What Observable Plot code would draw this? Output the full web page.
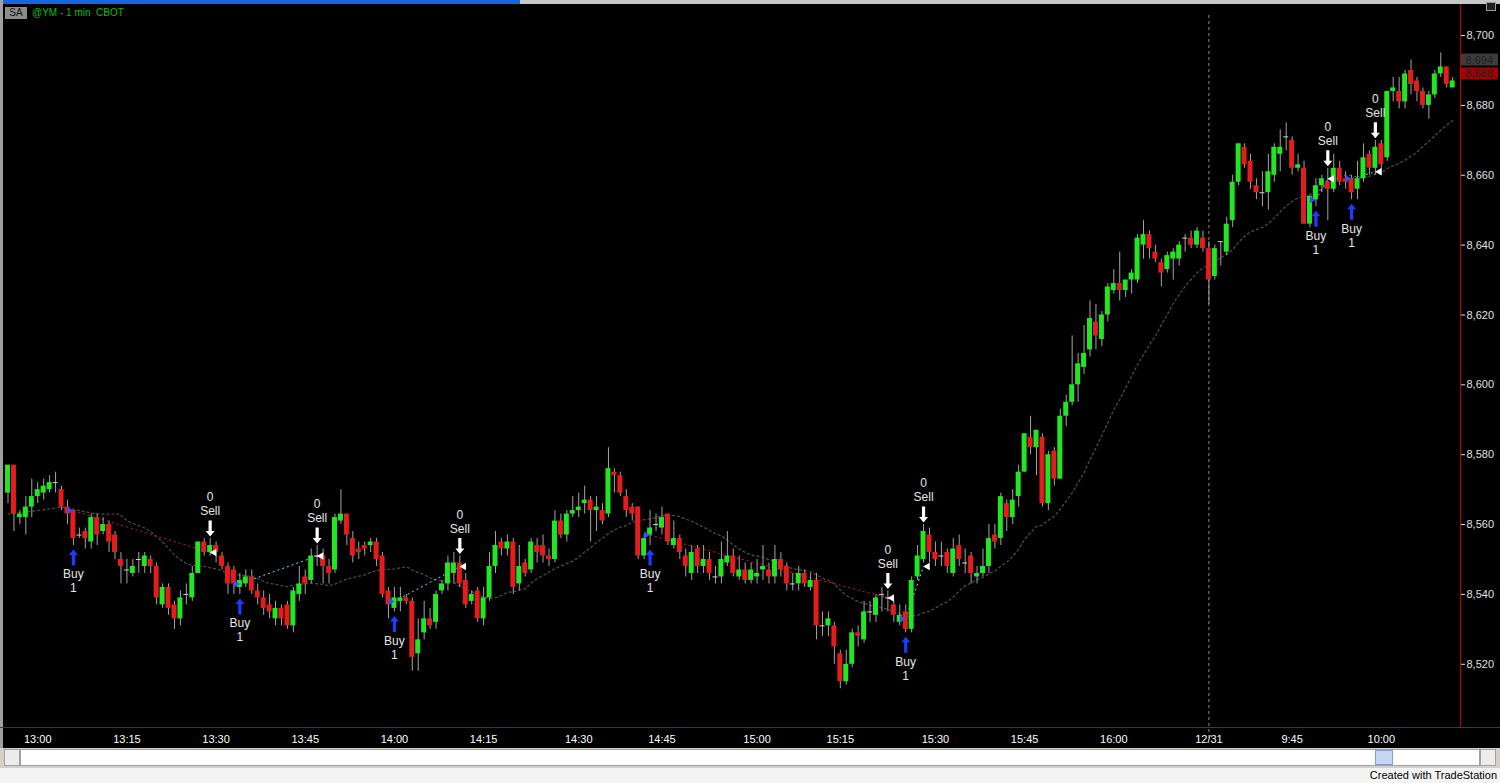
<!DOCTYPE html>
<html><head><meta charset="utf-8">
<script src="https://cdn.jsdelivr.net/npm/d3@7"></script>
<script src="https://cdn.jsdelivr.net/npm/@observablehq/plot@0.6"></script>
<style>
html,body{margin:0;padding:0}
body{width:1500px;height:783px;overflow:hidden;position:relative;background:#000;font-family:"Liberation Sans",Arial,sans-serif}
#chart{position:absolute;left:0;top:0}
.ov{position:absolute;box-sizing:border-box}
</style></head><body>
<div id="chart"></div>
<div class="ov" style="left:0;top:0;width:1500px;height:4px;background:#c8c8c8"></div>
<div class="ov" style="left:0;top:0;width:520px;height:4px;background:#1466e0"></div>
<div class="ov" style="left:0;top:0;width:3px;height:748px;background:#a0a0a0"></div>
<div class="ov" style="left:1486px;top:2px;width:10px;height:9px;border:1px solid #9a9a9a;background:#202020"></div>
<div class="ov" style="left:1460px;top:4px;width:1px;height:723px;background:#c00000"></div>
<div class="ov" style="left:0;top:727px;width:1500px;height:1px;background:#c00000"></div>
<div class="ov" style="left:5px;top:7px;width:22px;height:12px;background:#8c8c8c;color:#101010;font-size:10px;line-height:12px;text-align:center">SA</div>
<div class="ov" style="left:32px;top:6px;color:#00c000;font-size:10px;line-height:14px;white-space:pre">@YM - 1 min  CBOT</div>
<div class="ov" style="left:0;top:748px;width:1500px;height:20px;background:#d4d0c8"></div>
<div class="ov" style="left:4px;top:749px;width:16px;height:17px;background:#ececec;border:1px solid #a0a0a0"></div>
<div class="ov" style="left:20px;top:749px;width:1460px;height:17px;background:#fff;border:1px solid #a0a0a0"></div>
<div class="ov" style="left:1375px;top:750px;width:18px;height:15px;background:#c4d6f2;border:1px solid #7f9fd0"></div>
<div class="ov" style="left:1480px;top:749px;width:16px;height:17px;background:#ececec;border:1px solid #a0a0a0"></div>
<div class="ov" style="left:0;top:768px;width:1500px;height:15px;background:#f4f4f4"></div>
<div class="ov" style="right:3px;top:769px;color:#000;font-size:11px;line-height:13px">Created with TradeStation</div>
<script>
// ---- data ----
const opens = [
8569,8577,8562,8562,8565,8568,8569,8570,8572,8570,
8565,8564,8557,8558,8555,8562,8558,8560,8557,8550,
8547,8546,8550,8548,8550,8548,8537,8542,8537,8533,
8540,8539,8546,8555,8552,8554,8551,8548,8547,8542,
8543,8545,8541,8539,8537,8533,8536,8537,8531,8540,
8545,8544,8551,8551,8548,8547,8561,8563,8556,8553,
8554,8554,8555,8551,8541,8536,8538,8539,8538,8523,
8529,8533,8532,8541,8543,8546,8549,8544,8538,8541,
8533,8539,8548,8555,8553,8555,8543,8549,8547,8554,
8554,8551,8550,8561,8557,8563,8564,8566,8567,8564,
8564,8563,8575,8574,8568,8565,8565,8551,8557,8560,
8559,8563,8554,8556,8551,8546,8553,8548,8550,8545,
8545,8549,8551,8545,8547,8544,8545,8547,8547,8545,
8550,8548,8543,8543,8546,8542,8544,8531,8531,8531,
8523,8515,8520,8529,8527,8535,8534,8540,8539,8537,
8532,8535,8530,8545,8550,8557,8552,8551,8552,8546,
8554,8549,8551,8545,8546,8548,8557,8556,8566,8562,
8568,8575,8585,8582,8585,8566,8581,8573,8591,8595,
8600,8605,8610,8618,8613,8620,8627,8629,8627,8630,
8630,8640,8643,8638,8635,8633,8636,8636,8642,8642,
8640,8642,8639,8631,8641,8638,8647,8658,8668,8664,
8657,8655,8655,8660,8666,8671,8670,8662,8662,8646,
8653,8657,8658,8656,8662,8659,8659,8656,8659,8666,
8662,8669,8665,8684,8684,8681,8690,8687,8684,8680,
8683,8689,8691,8685];
const highs = [
8577,8577,8564,8568,8573,8572,8573,8574,8575,8571,
8567,8564,8559,8559,8563,8563,8562,8561,8558,8552,
8550,8550,8552,8552,8551,8549,8543,8543,8538,8541,
8543,8548,8555,8556,8556,8555,8552,8549,8548,8546,
8547,8547,8543,8541,8540,8538,8537,8538,8542,8548,
8547,8553,8554,8553,8550,8563,8570,8563,8558,8555,
8555,8556,8556,8552,8542,8542,8542,8540,8539,8533,
8538,8536,8541,8544,8551,8552,8551,8546,8541,8542,
8542,8552,8558,8556,8557,8556,8554,8550,8556,8556,
8557,8553,8564,8563,8564,8568,8569,8571,8568,8568,
8566,8582,8576,8575,8570,8566,8565,8557,8564,8563,
8565,8563,8561,8557,8553,8554,8554,8554,8552,8548,
8555,8558,8553,8551,8549,8549,8550,8554,8549,8554,
8552,8549,8546,8548,8547,8546,8546,8535,8535,8532,
8524,8524,8530,8531,8538,8538,8540,8542,8541,8538,
8537,8537,8545,8554,8560,8559,8555,8555,8553,8556,
8557,8553,8552,8548,8553,8560,8560,8569,8567,8570,
8577,8586,8591,8587,8586,8581,8582,8593,8597,8614,
8609,8617,8624,8623,8621,8629,8633,8638,8630,8633,
8643,8647,8644,8640,8636,8638,8639,8641,8643,8644,
8645,8644,8641,8640,8641,8648,8660,8669,8669,8666,
8659,8661,8666,8669,8673,8675,8671,8666,8664,8654,
8659,8660,8662,8666,8664,8661,8660,8664,8669,8667,
8670,8670,8684,8688,8688,8690,8693,8688,8685,8684,
8690,8695,8691,8688];
const lows = [
8566,8558,8560,8557,8562,8566,8567,8569,8569,8564,
8560,8554,8556,8553,8553,8554,8557,8552,8550,8543,
8543,8545,8546,8546,8546,8537,8536,8534,8530,8531,
8537,8538,8546,8551,8551,8549,8547,8540,8540,8540,
8542,8540,8537,8534,8533,8531,8531,8530,8529,8538,
8540,8543,8548,8543,8543,8546,8560,8554,8549,8550,
8551,8552,8548,8539,8533,8535,8535,8537,8518,8518,
8527,8530,8530,8540,8541,8543,8542,8536,8537,8532,
8531,8538,8546,8551,8551,8540,8541,8545,8546,8549,
8549,8548,8549,8556,8555,8562,8562,8563,8555,8558,
8560,8562,8569,8568,8562,8561,8550,8550,8554,8558,
8557,8554,8553,8550,8545,8544,8546,8546,8544,8543,
8543,8548,8545,8544,8543,8543,8543,8544,8543,8543,
8545,8541,8541,8541,8542,8541,8527,8528,8528,8520,
8513,8514,8519,8525,8526,8532,8532,8535,8535,8532,
8531,8529,8529,8544,8549,8549,8548,8548,8546,8545,
8548,8546,8543,8543,8545,8546,8553,8554,8558,8560,
8565,8575,8580,8574,8565,8564,8571,8573,8588,8594,
8595,8603,8608,8610,8611,8618,8626,8624,8625,8626,
8629,8636,8636,8635,8628,8632,8630,8634,8638,8639,
8639,8638,8623,8630,8634,8637,8645,8657,8662,8656,
8653,8651,8650,8658,8661,8667,8660,8661,8646,8645,
8651,8655,8647,8655,8657,8656,8653,8653,8658,8660,
8660,8660,8664,8681,8679,8679,8683,8681,8679,8676,
8682,8688,8685,8685];
const closes = [
8577,8563,8563,8565,8568,8570,8571,8572,8572,8565,
8563,8556,8557,8556,8562,8557,8560,8555,8552,8548,
8547,8548,8550,8551,8548,8539,8542,8536,8533,8539,
8540,8546,8555,8552,8554,8552,8548,8543,8543,8544,
8545,8541,8539,8536,8535,8536,8533,8531,8541,8543,
8543,8551,8551,8548,8546,8562,8563,8557,8551,8552,
8553,8555,8550,8540,8537,8539,8539,8538,8522,8527,
8533,8531,8540,8543,8549,8549,8543,8537,8540,8533,
8539,8548,8554,8553,8555,8542,8548,8546,8555,8552,
8551,8550,8561,8557,8563,8564,8565,8567,8564,8565,
8561,8576,8574,8569,8564,8563,8551,8556,8559,8560,
8562,8555,8556,8552,8548,8552,8548,8550,8546,8545,
8550,8551,8546,8547,8544,8547,8546,8548,8545,8550,
8547,8543,8543,8546,8543,8544,8531,8531,8533,8525,
8515,8520,8529,8528,8535,8535,8539,8540,8539,8534,
8534,8530,8544,8551,8558,8552,8550,8551,8548,8553,
8550,8549,8546,8546,8548,8556,8555,8568,8562,8567,
8575,8586,8582,8587,8566,8580,8573,8591,8595,8600,
8606,8609,8619,8614,8620,8628,8629,8627,8630,8632,
8642,8643,8639,8636,8632,8637,8638,8640,8642,8640,
8644,8639,8630,8639,8641,8646,8658,8669,8663,8658,
8655,8655,8661,8668,8668,8671,8662,8663,8646,8654,
8657,8659,8656,8662,8658,8658,8655,8659,8665,8662,
8668,8663,8684,8685,8681,8689,8686,8684,8680,8683,
8689,8691,8686,8687];

// moving average values read at the very start (before a full 20-bar window exists)
const maLeadIdx = [0, 5, 9, 15, 19];
const maLead = [8563, 8564, 8565, 8563, 8563];

// trades
const buyIdx = [11, 39, 65, 108, 151, 220, 226];
const buyPrice = [8564, 8543, 8538, 8557, 8533, 8653, 8659];
const sellIdx = [34, 52, 76, 148, 154, 222, 230];
const sellPrice = [8552, 8551, 8548, 8539, 8548, 8659, 8661];
const buyQty = ["1", "1", "1", "1", "1", "1", "1"];
const sellQty = ["0", "0", "0", "0", "0", "0", "0"];

// axis
const timeTickIdx = [5, 20, 35, 50, 65, 80, 96, 110, 126, 140, 156, 171, 186, 202, 216, 231];
const timeLabels = ["13:00","13:15","13:30","13:45","14:00","14:15","14:30","14:45","15:00","15:15","15:30","15:45","16:00","12/31","9:45","10:00"];
const priceTicks = [8520, 8540, 8560, 8580, 8600, 8620, 8640, 8660, 8680, 8700];
const dayBreakIdx = [202];
const boxPrices = [8693, 8689];
const boxLabels = ["8,694", "8,688"];

// ---- build ----
const bars = opens.map((o, i) => ({i, o, h: highs[i], l: lows[i], c: closes[i]}));
const ups = bars.filter(d => d.c > d.o);
const downs = bars.filter(d => d.c < d.o);
const dojis = bars.filter(d => d.c === d.o);
const trades = buyIdx.map((b, k) => ({
  bi: b, bp: buyPrice[k], si: sellIdx[k], sp: sellPrice[k],
  low: lows[b], high: highs[sellIdx[k]], bq: buyQty[k], sq: sellQty[k],
  win: sellPrice[k] > buyPrice[k]
}));
const maLeadData = maLeadIdx.map((i, k) => ({i, v: maLead[k]}));
const labelMap = new Map(timeTickIdx.map((t, k) => [t, timeLabels[k]]));
const boxes = boxPrices.map((p, k) => ({p, label: boxLabels[k], k}));

const HW = 0.42;
const GREEN = "#22e622", RED = "#e41c1c", WICK = "#a4a4a4";
const MA = "#4a4a4a";

const upArrow = {draw(ctx) {
  ctx.moveTo(0, -8); ctx.lineTo(4.5, -2.5); ctx.lineTo(1.6, -2.5); ctx.lineTo(1.6, 8);
  ctx.lineTo(-1.6, 8); ctx.lineTo(-1.6, -2.5); ctx.lineTo(-4.5, -2.5); ctx.closePath();
}};
const downArrow = {draw(ctx) {
  ctx.moveTo(0, 8); ctx.lineTo(4.5, 2.5); ctx.lineTo(1.6, 2.5); ctx.lineTo(1.6, -8);
  ctx.lineTo(-1.6, -8); ctx.lineTo(-1.6, 2.5); ctx.lineTo(-4.5, 2.5); ctx.closePath();
}};

const chart = Plot.plot({
  width: 1500, height: 748,
  marginLeft: 4, marginRight: 40, marginTop: 5, marginBottom: 21,
  style: {background: "#000", color: "#e0e0e0", fontFamily: "Liberation Sans, Arial, sans-serif", fontSize: "11px", overflow: "visible"},
  x: {type: "linear", domain: [-0.59, 244.32]},
  y: {type: "linear", domain: [8501.9, 8708.6]},
  marks: [
    Plot.ruleX(dayBreakIdx, {x: d => d, stroke: "#8a8a8a", strokeDasharray: "3,3", strokeWidth: 1, insetTop: 10, insetBottom: -12}),
    // moving average
    Plot.line(maLeadData, {x: "i", y: "v", stroke: MA, strokeWidth: 1.3, strokeDasharray: "2,3"}),
    Plot.lineY(bars, Plot.windowY({k: 20, anchor: "end", strict: true}, {x: "i", y: "c", stroke: MA, strokeWidth: 1.3, strokeDasharray: "2,3"})),
    // trade lines
    Plot.link(trades.filter(t => !t.win), {x1: "bi", y1: "bp", x2: "si", y2: "sp", stroke: "#c81e1e", strokeWidth: 1, strokeDasharray: "2,3"}),
    Plot.link(trades.filter(t => t.win), {x1: "bi", y1: "bp", x2: "si", y2: "sp", stroke: "#70e0e0", strokeWidth: 1, strokeDasharray: "2,3"}),
    // candles
    Plot.ruleX(bars, {x: "i", y1: "l", y2: "h", stroke: WICK, strokeWidth: 1}),
    Plot.rect(ups, {x1: d => d.i - HW, x2: d => d.i + HW, y1: "o", y2: "c", fill: GREEN}),
    Plot.rect(downs, {x1: d => d.i - HW, x2: d => d.i + HW, y1: "o", y2: "c", fill: RED}),
    Plot.ruleY(dojis, {y: "c", x1: d => d.i - HW, x2: d => d.i + HW, stroke: "#d0d0d0", strokeWidth: 1}),
    // entry / exit markers
    Plot.dot(trades, {x: "bi", y: "bp", symbol: "triangle", r: 2.6, rotate: 90, dx: -4, fill: "#3050ff", stroke: "none"}),
    Plot.dot(trades, {x: "si", y: "sp", symbol: "triangle", r: 2.8, rotate: -90, dx: 4, fill: "#ffffff", stroke: "none"}),
    // buy labels
    Plot.dot(trades, {x: "bi", y: "low", symbol: upArrow, r: 3, dy: 12, fill: "#1e3cff", stroke: "none"}),
    Plot.text(trades, {x: "bi", y: "low", text: () => "Buy", dy: 29, fill: "#e6e6e6", fontSize: 12}),
    Plot.text(trades, {x: "bi", y: "low", text: "bq", dy: 43, fill: "#e6e6e6", fontSize: 12}),
    // sell labels
    Plot.dot(trades, {x: "si", y: "high", symbol: downArrow, r: 3, dy: -10, fill: "#ffffff", stroke: "none"}),
    Plot.text(trades, {x: "si", y: "high", text: () => "Sell", dy: -27, fill: "#e6e6e6", fontSize: 12}),
    Plot.text(trades, {x: "si", y: "high", text: "sq", dy: -41, fill: "#e6e6e6", fontSize: 12}),
    // axes
    Plot.axisY(priceTicks, {anchor: "right", tickSize: 4, tickPadding: 2, tickFormat: d3.format(","), color: "#e0e0e0", fontSize: 11}),
    Plot.axisX(timeTickIdx, {anchor: "bottom", tickSize: 0, tickPadding: 8, tickFormat: d => labelMap.get(d), color: "#ffffff", fontSize: 11}),
    // last-value boxes on the price axis
    Plot.rect(boxes.filter(b => b.k === 0), {y1: "p", y2: "p", insetLeft: 1457, insetRight: -38, insetTop: -6, insetBottom: -6, fill: "#3c3c3c"}),
    Plot.rect(boxes.filter(b => b.k === 1), {y1: "p", y2: "p", insetLeft: 1457, insetRight: -38, insetTop: -6, insetBottom: -6, fill: "#a00000"}),
    Plot.text(boxes, {y: "p", text: "label", frameAnchor: "right", dx: 5, textAnchor: "start", fill: "#202020", fontSize: 11})
  ]
});
document.getElementById("chart").appendChild(chart);
</script>
</body></html>
